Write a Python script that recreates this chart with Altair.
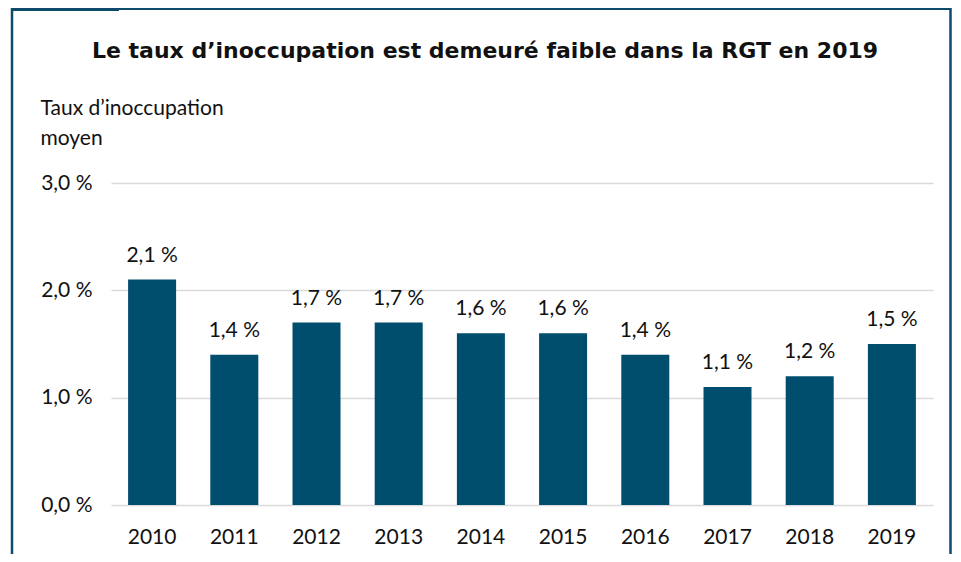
import altair as alt
import pandas as pd

years = ["2010", "2011", "2012", "2013", "2014", "2015", "2016", "2017", "2018", "2019"]
rates = [2.1, 1.4, 1.7, 1.7, 1.6, 1.6, 1.4, 1.1, 1.2, 1.5]
y_ticks = [0, 1, 2, 3]

title_text = "Le taux d’inoccupation est demeuré faible dans la RGT en 2019"
y_title = ["Taux d’inoccupation", "moyen"]

FONT = "Lato"
TITLE_FONT = "DejaVu Sans"
BAR = "#004E6E"
FRAME = "#0D4A6B"
TXT = "#111111"
FS = 21

df = pd.DataFrame({"year": years, "rate": rates})

base = alt.Chart(df)

x_enc = alt.X(
    "year:N",
    sort=years,
    scale=alt.Scale(paddingInner=0.416, paddingOuter=0.208),
    axis=alt.Axis(
        title=None, labelAngle=0, labelFontSize=FS, labelFont=FONT, labelColor=TXT,
        labelPadding=21, ticks=False, domain=False, labelBaseline="top",
    ),
)
y_enc = alt.Y(
    "rate:Q",
    scale=alt.Scale(domain=[0, 3], nice=False),
    axis=alt.Axis(
        title=y_title, values=y_ticks, titleAngle=0, titleAlign="left",
        titleBaseline="alphabetic", titleX=-71, titleY=-69, titleFontSize=21,
        titleFont=FONT, titleFontWeight="normal", titleColor=TXT, titleLineHeight=30,
        labelFontSize=FS, labelFont=FONT, labelColor=TXT, labelPadding=19,
        labelExpr="replace(format(datum.value, '.1f'), '.', ',') + ' %'",
        ticks=False, domain=False, grid=True, gridColor="#d9d9d9", gridWidth=1.5,
    ),
)

bars = base.mark_bar(color=BAR).encode(x=x_enc, y=y_enc)

labels = base.transform_calculate(
    label="replace(format(datum.rate, '.1f'), '.', ',') + ' %'"
).mark_text(
    baseline="alphabetic", dy=-18, fontSize=FS, font=FONT, color=TXT
).encode(x=alt.X("year:N", sort=years), y="rate:Q", text="label:N")

frame_df = pd.DataFrame({"k": [0]})
fb = alt.Chart(frame_df)
left_rule = fb.mark_rule(color=FRAME, strokeWidth=2.5).encode(
    x=alt.value(-99), y=alt.value(-175), y2=alt.value(371))
right_rule = fb.mark_rule(color=FRAME, strokeWidth=2.5).encode(
    x=alt.value(839.5), y=alt.value(-175), y2=alt.value(371))
top_rule = fb.mark_rule(color=FRAME, strokeWidth=2).encode(
    x=alt.value(-100), x2=alt.value(840), y=alt.value(-174))
tab_rule = fb.mark_rule(color=FRAME, strokeWidth=6).encode(
    x=alt.value(-100), x2=alt.value(8), y=alt.value(-175))

chart = alt.layer(bars, labels, left_rule, right_rule, top_rule, tab_rule).properties(
    width=822,
    height=322,
    padding={"left": 103, "top": 175, "right": 20, "bottom": 49},
    autosize=alt.AutoSizeParams(type="none"),
    title=alt.TitleParams(
        text=title_text, fontSize=22, font=TITLE_FONT, fontWeight="bold", color=TXT,
        anchor="middle", frame="group", dx=-37, dy=58, offset=0,
    ),
).configure(
    background="white", view=alt.ViewConfig(stroke=None)
)

chart.save("out.html", embed_options={"renderer": "svg", "actions": False})
